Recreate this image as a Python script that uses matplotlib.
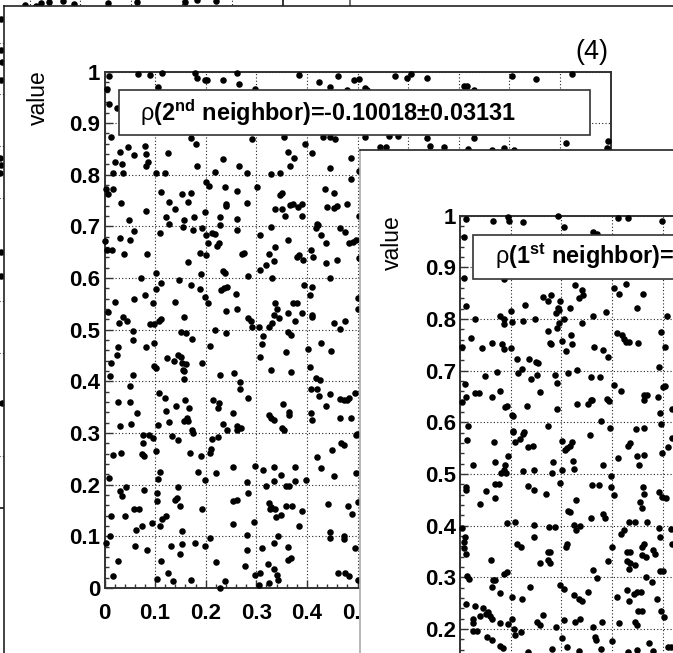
import matplotlib
matplotlib.use('Agg')
import matplotlib.pyplot as plt
from matplotlib.patches import Rectangle

plt.rcParams['font.family'] = ['Liberation Sans', 'DejaVu Sans']
plt.rcParams['mathtext.fontset'] = 'custom'
plt.rcParams['mathtext.rm'] = 'Liberation Sans:bold'
plt.rcParams['mathtext.bf'] = 'Liberation Sans:bold'
plt.rcParams['mathtext.it'] = 'Liberation Sans:bold'
plt.rcParams['mathtext.sf'] = 'Liberation Sans'
plt.rcParams['mathtext.default'] = 'bf'

# ---------------- data ----------------
tick_values = [0, 0.1, 0.2, 0.3, 0.4, 0.5, 0.6, 0.7, 0.8, 0.9, 1.0]
tick_labels = ['0', '0.1', '0.2', '0.3', '0.4', '0.5', '0.6', '0.7', '0.8', '0.9', '1']

label_2nd = r"$\mathsf{\rho}$(2$^{nd}$ neighbor)=-0.10018±0.03131"
label_1st = r"$\mathsf{\rho}$(1$^{st}$ neighbor)=0.01312±0.03131"
pad_tag = "(4)"
y_title = "value"

# (index, value) pairs of the 2nd-neighbour scatter (pad 4)
second_neighbor = [
 (.009,.992),(.005,.966),(.066,.995),(.089,.993),(.113,.997),(.105,.970),(.179,.997),(.183,.987),(.199,.983),(.203,.984),
 (.234,.983),(.262,.997),(.266,.976),(.297,.966),(.385,.994),(.423,.980),(.446,.970),(.461,.992),(.480,.965),(.493,.984),(.503,.985),
 (.009,.937),(.024,.929),(.013,.874),
 (.046,.854),(.030,.844),(.058,.839),(.080,.856),(.082,.841),(.085,.825),(.082,.817),(.021,.825),(.034,.820),(.037,.804),(.016,.804),
 (.101,.804),(.120,.804),(.125,.843),(.170,.872),(.181,.859),(.183,.817),(.219,.805),(.234,.830),(.266,.817),(.282,.804),(.291,.870),
 (.330,.801),(.346,.804),(.354,.873),(.362,.844),(.366,.818),(.374,.832),(.397,.859),(.410,.843),(.432,.873),(.446,.873),(.456,.870),
 (.445,.814),(.488,.832),(.488,.791),(.503,.808),
 (.003,.773),(.016,.773),(.006,.763),(.201,.786),(.206,.779),(.238,.776),(.262,.769),(.302,.776),(.347,.760),(.350,.765),(.436,.773),
 (.453,.765),(.111,.767),(.154,.762),(.171,.765),
 (.515,.968),(.519,.965),(.575,.992),(.598,.988),(.605,.996),(.638,.988),(.710,.971),(.717,.971),(.730,.965),(.806,.992),(.852,.985),
 (.923,.995),(.995,.865),(.994,.851),(.913,.861),(.515,.873),(.562,.876),(.581,.876),(.544,.854),(.557,.854),(.638,.871),(.644,.856),
 (.671,.853),(.730,.871),(.718,.849),(.766,.848),(.789,.851),(.809,.848),
 (.032,.745),(.127,.747),(.140,.734),(.165,.747),(.241,.744),(.241,.739),(.282,.745),(.337,.734),(.350,.734),(.357,.721),(.367,.741),
 (.372,.744),(.383,.737),(.390,.744),(.390,.721),(.440,.737),(.453,.736),(.460,.739),(.479,.744),(.503,.721),(.082,.730),(.049,.712),
 (.122,.719),(.158,.713),(.177,.719),(.198,.728),(.228,.719),(.262,.715),(.420,.705),
 (.030,.678),(.050,.673),(.059,.691),(.001,.672),(.004,.654),(.015,.654),(.039,.647),(.084,.647),(.072,.601),(.109,.688),(.127,.704),
 (.156,.699),(.174,.694),(.192,.697),(.200,.683),(.201,.644),(.205,.667),(.212,.687),(.218,.685),(.228,.702),(.223,.663),(.227,.667),
 (.165,.631),(.188,.649),(.261,.694),(.272,.647),(.275,.649),(.307,.683),(.329,.699),(.337,.660),(.325,.646),(.319,.625),(.335,.633),
 (.307,.615),(.331,.601),(.362,.674),(.380,.640),(.384,.645),(.392,.636),(.408,.654),(.412,.641),(.417,.697),(.421,.702),(.428,.684),
 (.437,.667),(.437,.630),(.445,.600),(.460,.636),(.466,.697),(.476,.689),(.483,.667),(.492,.670),(.498,.673),(.502,.638),(.283,.604),
 (.234,.614),(.238,.610),(.191,.607),
 (.006,.535),(.021,.554),(.028,.514),(.037,.525),(.044,.517),(.056,.498),(.057,.481),(.059,.559),(.080,.567),(.095,.551),(.089,.511),
 (.097,.511),(.102,.609),(.102,.578),(.107,.517),(.112,.520),(.112,.591),(.147,.596),(.140,.554),(.158,.525),(.152,.496),(.162,.493),
 (.172,.483),(.170,.586),(.188,.578),(.199,.564),(.205,.551),(.218,.499),(.241,.494),(.231,.577),(.236,.580),(.242,.582),(.241,.536),
 (.260,.570),(.262,.541),(.284,.522),(.289,.516),(.292,.505),(.306,.505),(.314,.487),(.312,.472),(.326,.505),(.331,.514),(.335,.528),
 (.337,.551),(.341,.541),(.344,.522),(.362,.533),(.362,.496),(.368,.490),(.372,.551),(.381,.551),(.377,.516),(.390,.533),(.394,.586),
 (.407,.567),(.411,.582),(.410,.528),(.410,.524),(.403,.462),(.453,.514),(.466,.501),(.476,.516),(.501,.541),(.501,.562),
 (.013,.436),(.024,.451),(.026,.467),(.011,.411),(.056,.413),(.050,.391),(.082,.467),(.097,.474),(.097,.430),(.101,.425),(.123,.445),
 (.138,.440),(.146,.451),(.152,.448),(.155,.422),(.158,.421),(.154,.436),(.162,.433),(.158,.405),(.193,.436),(.209,.468),(.228,.413),
 (.256,.416),(.268,.398),(.268,.385),(.307,.448),(.329,.423),(.358,.456),(.368,.419),(.407,.427),(.417,.407),(.426,.402),(.428,.475),
 (.448,.458),(.408,.385),(.419,.385),(.424,.371),
 (.026,.361),(.050,.361),(.064,.339),(.120,.367),(.107,.378),(.122,.342),(.142,.352),(.160,.364),(.167,.348),(.164,.329),(.215,.364),
 (.226,.359),(.224,.348),(.253,.339),(.284,.367),(.326,.335),(.329,.329),(.352,.357),(.364,.341),(.364,.335),(.408,.339),(.437,.352),
 (.446,.376),(.466,.366),(.466,.329),(.474,.364),(.480,.364),(.483,.367),(.488,.329),(.496,.378),
 (.030,.314),(.052,.318),(.105,.316),(.127,.321),(.158,.323),(.165,.324),(.172,.306),(.175,.300),(.234,.318),(.242,.305),(.261,.313),
 (.262,.305),(.269,.310),(.334,.325),(.350,.310),(.355,.306),(.410,.325),(.499,.299),
 (.017,.258),(.032,.261),(.077,.297),(.077,.281),(.087,.297),(.096,.290),(.074,.260),(.079,.256),(.102,.265),(.134,.294),(.145,.287),
 (.168,.261),(.185,.224),(.190,.255),(.209,.261),(.211,.269),(.213,.288),(.224,.292),(.221,.223),(.110,.224),(.253,.234),(.281,.206),
 (.297,.237),(.314,.229),(.335,.234),(.335,.208),(.319,.198),(.349,.219),(.358,.198),(.364,.198),(.377,.234),(.377,.208),(.399,.210),
 (.420,.254),(.428,.232),(.450,.268),(.453,.217),(.468,.281),(.474,.277),(.498,.297),(.498,.223),(.105,.211),
 (.008,.213),(.042,.195),(.030,.187),(.034,.179),(.079,.189),(.059,.153),(.069,.152),(.041,.139),(.013,.139),(.062,.113),(.074,.121),
 (.093,.125),(.104,.183),(.104,.168),(.109,.121),(.114,.134),(.121,.139),(.146,.195),(.139,.171),(.143,.174),(.150,.158),(.193,.153),
 (.199,.210),(.254,.168),(.262,.171),(.253,.124),(.284,.183),(.295,.127),(.325,.164),(.329,.157),(.327,.153),(.337,.152),(.349,.142),
 (.338,.137),(.358,.158),(.370,.158),(.385,.121),(.390,.150),(.441,.163),(.481,.159),(.490,.143),(.501,.166),(.446,.108),(.474,.101),
 (.474,.094),(.446,.097),
 (.003,.087),(.011,.101),(.026,.052),(.016,.023),(.060,.082),(.084,.074),(.112,.052),(.104,.017),(.125,.030),(.132,.082),(.135,.013),
 (.154,.110),(.149,.065),(.154,.085),(.170,.015),(.178,.087),(.199,.081),(.209,.097),(.221,.050),(.228,.000),(.238,.013),(.278,.043),
 (.282,.074),(.282,.103),(.297,.026),(.307,.029),(.306,.006),(.312,.077),(.324,.047),(.326,.010),(.335,.088),(.335,.037),(.341,.026),
 (.343,.016),(.342,.101),(.362,.079),(.362,.055),(.368,.058),(.461,.030),(.476,.030),(.483,.024),(.496,.077),(.501,.016),
]

# (index, value) pairs of the 1st-neighbour scatter (front pad)
first_neighbor = [
 (.012,.994),(.066,.990),(.095,.997),(.097,.989),(.125,.987),(.194,.999),(.205,.978),(.263,.968),(.271,.965),(.311,.996),(.332,.996),
 (.399,.990),(.007,.958),(.007,.879),(.012,.824),(.030,.800),(.003,.746),(.022,.764),(.043,.743),(.064,.754),(.082,.751),(.086,.741),
 (.079,.806),(.087,.800),(.086,.790),(.086,.877),(.100,.743),(.101,.816),(.102,.794),(.128,.827),(.147,.800),(.125,.795),(.112,.722),
 (.122,.704),(.115,.696),(.137,.722),(.150,.717),(.153,.715),(.141,.683),(.163,.843),(.180,.846),(.174,.834),(.174,.777),(.178,.753),
 (.180,.751),(.189,.812),(.193,.821),(.196,.817),(.197,.834),(.205,.800),(.195,.792),(.191,.782),(.201,.758),(.209,.737),(.217,.821),
 (.219,.769),(.221,.751),(.227,.865),(.234,.840),(.240,.856),(.242,.847),(.240,.793),(.230,.701),(.263,.806),(.265,.746),(.259,.687),
 (.276,.687),(.282,.739),(.287,.814),(.292,.726),(.304,.860),(.313,.849),(.327,.868),(.309,.773),(.320,.768),(.324,.762),(.328,.756),
 (.334,.755),(.350,.821),(.361,.849),(.352,.754),(.393,.707),(.397,.775),(.405,.745),(.408,.805),(.400,.669),(.405,.670),(.303,.672),
 (.317,.661),(.010,.675),(.012,.648),(.030,.656),(.037,.656),(.049,.689),(.072,.698),(.078,.661),(.063,.648),(.151,.691),(.157,.659),
 (.188,.691),(.191,.676),(.213,.696),(.261,.644),(.289,.646),(.362,.652),(.368,.652),(.390,.648),
 (.003,.639),(.016,.592),(.013,.565),(.026,.518),(.012,.474),(.012,.469),(.039,.442),(.051,.468),(.067,.561),(.069,.524),(.069,.481),
 (.069,.453),(.076,.481),(.080,.502),(.086,.507),(.089,.518),(.090,.502),(.095,.535),(.092,.406),(.089,.630),(.092,.632),(.102,.615),
 (.105,.612),(.104,.584),(.105,.581),(.109,.561),(.118,.568),(.125,.578),(.127,.581),(.132,.631),(.135,.553),(.143,.555),(.125,.505),
 (.145,.507),(.135,.476),(.145,.469),(.109,.408),(.112,.364),(.120,.359),(.145,.401),(.145,.379),(.158,.327),(.174,.350),(.178,.350),
 (.174,.333),(.178,.327),(.176,.398),(.188,.397),(.170,.461),(.174,.592),(.181,.502),(.183,.524),(.191,.625),(.197,.483),(.201,.508),
 (.201,.563),(.207,.547),(.211,.550),(.216,.555),(.220,.561),(.222,.526),(.224,.509),(.229,.450),(.214,.428),(.216,.427),(.224,.401),
 (.229,.392),(.237,.399),(.211,.364),(.209,.359),(.197,.285),(.205,.277),(.224,.265),(.234,.259),(.240,.254),(.253,.272),(.230,.636),
 (.253,.636),(.258,.644),(.263,.315),(.270,.298),(.259,.414),(.257,.576),(.260,.479),(.274,.479),(.278,.602),(.283,.518),(.283,.423),
 (.286,.414),(.293,.641),(.296,.589),(.297,.496),(.297,.474),(.304,.460),(.291,.331),(.299,.358),(.311,.531),(.317,.384),(.324,.392),
 (.332,.555),(.336,.559),(.334,.408),(.345,.408),(.329,.349),(.336,.349),(.329,.332),(.336,.327),(.334,.317),(.345,.324),(.349,.534),
 (.353,.518),(.347,.587),(.363,.589),(.363,.537),(.361,.474),(.362,.461),(.355,.445),(.359,.434),(.368,.408),(.359,.359),(.362,.364),
 (.359,.343),(.366,.340),(.380,.353),(.384,.345),(.367,.301),(.378,.291),(.362,.644),(.392,.466),(.392,.396),(.394,.379),(.395,.618),
 (.397,.596),(.398,.540),(.398,.456),(.407,.453),(.395,.313),(.400,.313),(.411,.553),(.418,.626),(.418,.570),(.416,.393),(.419,.364),
 (.403,.223),(.416,.165),
 (.003,.395),(.010,.379),(.007,.369),(.008,.356),(.012,.346),
 (.012,.249),(.014,.302),(.018,.296),(.026,.220),(.030,.244),(.025,.212),(.026,.197),(.033,.197),(.039,.225),(.046,.241),(.051,.230),
 (.056,.233),(.059,.225),(.064,.220),(.053,.184),(.063,.179),(.066,.295),(.061,.333),(.063,.282),(.079,.270),(.070,.295),(.086,.307),
 (.092,.311),(.079,.212),(.079,.168),(.084,.164),(.095,.209),(.102,.262),(.102,.220),(.107,.201),(.109,.188),(.120,.194),(.122,.259),
 (.138,.282),(.135,.155),(.151,.214),(.158,.207),(.163,.228),(.181,.162),(.189,.205),(.205,.217),(.202,.183),(.212,.165),(.227,.214),
 (.237,.220),(.234,.157),(.263,.205),(.266,.184),(.268,.179),(.280,.214),(.278,.162),(.299,.177),(.309,.263),(.313,.212),(.330,.276),
 (.334,.254),(.343,.268),(.350,.272),(.357,.272),(.345,.214),(.349,.207),(.351,.235),(.359,.235),(.332,.155),(.349,.160),(.372,.173),
 (.380,.157),(.388,.259),(.396,.235),(.411,.165),
]

# points of the canvas lying behind (only slivers visible)
background_points = [
 (.491,.973),(.513,.971),(.523,.977),(.538,.979),(.566,.981),(.588,.975),(.655,.977),(.712,.979),(.807,.979),(.830,.983),(.868,.981),
 (.444,.946),(.444,.886),(.446,.863),(.444,.828),(.442,.677),(.444,.663),(.442,.648),(.444,.495),(.444,.449),(.446,.203),
]

# ---------------- layout helpers ----------------
W, H = 673, 653
fig = plt.figure(figsize=(W / 100, H / 100), dpi=100)
fig.patch.set_facecolor('white')
FRAME = '#333333'
MS = 4.7


def px_axes(l, t, r, b, z):
    ax = fig.add_axes([l / W, 1 - b / H, (r - l) / W, (b - t) / H])
    ax.set_zorder(z)
    return ax


def make_pad(l, t, r, b, z, left_col, top_col, right_col=None):
    ax = px_axes(l, t, r, b, z)
    ax.set_xticks([]); ax.set_yticks([])
    ax.set_facecolor('white')
    ax.spines['bottom'].set_visible(False)
    ax.spines['left'].set_color(left_col); ax.spines['left'].set_linewidth(1.2)
    ax.spines['top'].set_color(top_col); ax.spines['top'].set_linewidth(1.2)
    if right_col is None:
        ax.spines['right'].set_visible(False)
    else:
        ax.spines['right'].set_color(right_col); ax.spines['right'].set_linewidth(1.2)
    return ax


def style_frame(ax, show_ticks=True, xlabels=True):
    ax.set_xlim(0, 1); ax.set_ylim(0, 1)
    for s in ax.spines.values():
        s.set_color(FRAME); s.set_linewidth(1.4)
    if show_ticks:
        ax.set_xticks(tick_values)
        ax.set_xticklabels(tick_labels, fontweight='bold', fontsize=16)
        ax.set_yticks(tick_values)
        ax.set_yticklabels(tick_labels, fontweight='bold', fontsize=16)
        ax.set_xticks([v / 50 for v in range(51)], minor=True)
        ax.set_yticks([v / 50 for v in range(51)], minor=True)
        ax.tick_params(which='both', direction='in', top=False, right=False,
                       color=FRAME, width=1.0)
        ax.tick_params(which='major', length=5.8)
        ax.tick_params(which='minor', length=2.9)
        ax.tick_params(axis='x', pad=10.5, labelbottom=xlabels)
        ax.tick_params(axis='y', pad=3)
    else:
        ax.set_xticks([0.5, 0.6, 0.7, 0.8, 0.9])
        ax.set_yticks([v / 10 for v in range(11)])
        ax.tick_params(length=0, labelbottom=False, labelleft=False)
    ax.grid(True, which='major', linestyle=(0, (1, 2)), color='#222222', lw=0.8)
    ax.set_axisbelow(True)


def scatter(ax, pts):
    xs = [p[0] for p in pts]
    ys = [p[1] for p in pts]
    ax.plot(xs, ys, 'o', ms=MS, color='black', mew=0, clip_on=False, zorder=3)


def label_box(ax, x0, y0, x1, y1, tx, text):
    ax.add_patch(Rectangle((x0, y0), x1 - x0, y1 - y0, transform=ax.transAxes,
                           facecolor='white', edgecolor=FRAME, lw=1.2,
                           zorder=5, clip_on=False))
    ax.text(tx, (y0 + y1) / 2, text, transform=ax.transAxes, ha='left', va='center',
            fontsize=16.9, fontweight='bold', color='black', zorder=6, clip_on=False)


# ---------------- background canvas ----------------
bg_pad = make_pad(-100, -100, 350, 700, 0.5, FRAME, FRAME, right_col='#555555')
bg = px_axes(-224, -9, 283, 508, 1)
style_frame(bg, show_ticks=False)
bg.plot([p[0] for p in background_points], [p[1] for p in background_points],
        'o', ms=MS, color='black', mew=0, zorder=3)

# ---------------- pad (4): 2nd neighbour ----------------
pad4 = make_pad(4, 6, W + 20, H + 20, 2, '#222222', '#222222')
pad4.text(592 / W, 1 - 52 / H, pad_tag, transform=fig.transFigure, ha='center',
          va='center', fontsize=19.5, color='black')
pad4.text(38.5 / W, 1 - 70 / H, y_title, transform=fig.transFigure, rotation=90,
          ha='center', va='top', fontsize=16.5, color='black')

ax4 = px_axes(104.5, 71.5, 610.5, 588, 3)
style_frame(ax4)
scatter(ax4, second_neighbor)
label_box(ax4, 0.0287, 0.877, 0.9595, 0.964, 0.071, label_2nd)

# ---------------- front pad: 1st neighbour ----------------
pad1 = make_pad(360, 150, W + 20, H + 20, 4, '#aaaaaa', '#222222')
pad1.text(392 / W, 1 - 215 / H, y_title, transform=fig.transFigure, rotation=90,
          ha='center', va='top', fontsize=16.5, color='black')

ax1 = px_axes(460, 215.5, 967, 732.5, 5)
style_frame(ax1, xlabels=False)
scatter(ax1, first_neighbor)
label_box(ax1, 0.026, 0.8776, 0.96, 0.963, 0.070, label_1st)

fig.savefig('out.png', dpi=100, facecolor='white')
